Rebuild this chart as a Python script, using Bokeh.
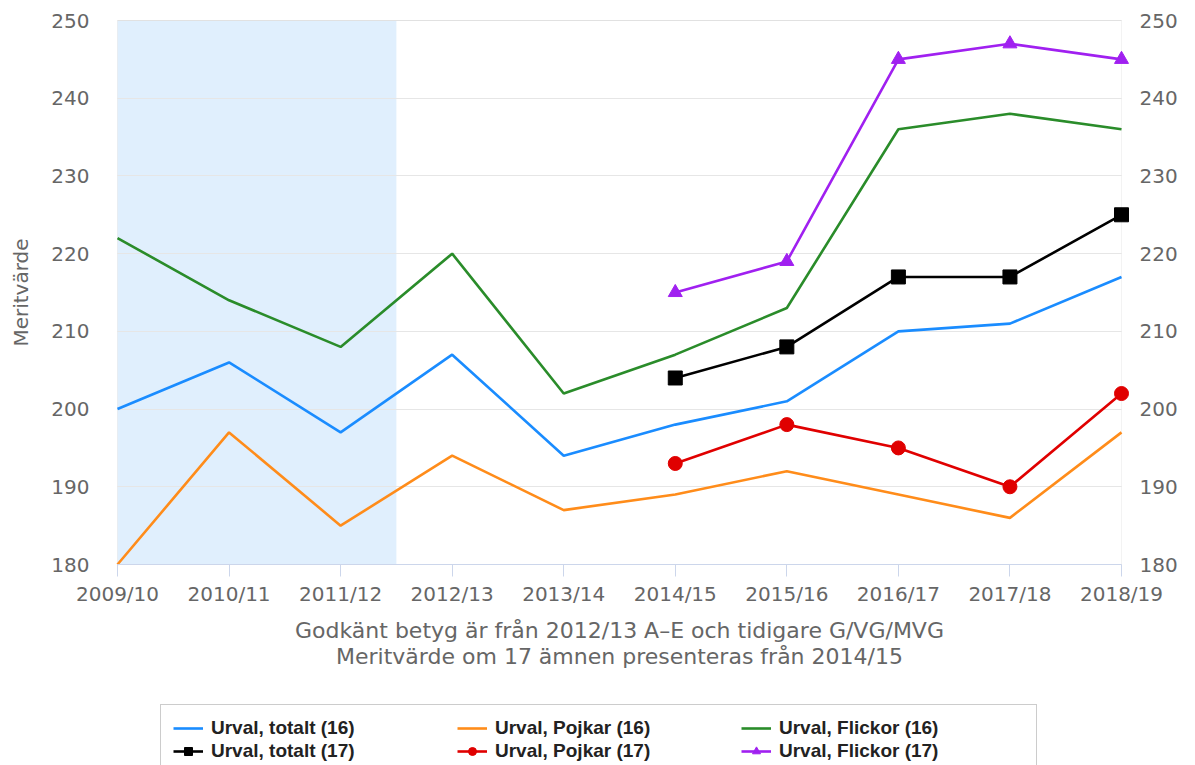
import math
from bokeh.plotting import figure
from bokeh.models import (FixedTicker, LinearAxis, Range1d, BoxAnnotation, Legend,
                          LegendItem, Grid, Label)
from bokeh.embed import file_html
from bokeh.resources import INLINE

years = ["2009/10", "2010/11", "2011/12", "2012/13", "2013/14",
         "2014/15", "2015/16", "2016/17", "2017/18", "2018/19"]
totalt16 = [200, 206, 197, 207, 194, 198, 201, 210, 211, 217]
pojkar16 = [180, 197, 185, 194, 187, 189, 192, 189, 186, 197]
flickor16 = [222, 214, 208, 220, 202, 207, 213, 236, 238, 236]
years17 = years[5:]
totalt17 = [204, 208, 217, 217, 225]
pojkar17 = [193, 198, 195, 190, 202]
flickor17 = [215, 219, 245, 247, 245]
y_ticks = [180, 190, 200, 210, 220, 230, 240, 250]
y_min, y_max = 180, 250
shade_end = 2.5

xi = list(range(len(years)))
xi17 = [years.index(y) for y in years17]
x_last = len(years) - 1

FONT = "DejaVu Sans"
GREY = "#666666"

# canvas and plot-area geometry (pixels); the frame covers the whole canvas so
# that axes, labels and legend outside the plot area are not clipped
W, H = 1195, 765
PL, PR, PT, PB = 117, 1121, 20, 564
xs = (PR - PL) / x_last
ys = (PB - PT) / (y_max - y_min)
x_start, x_end = -PL / xs, x_last + (W - PR) / xs
y_end, y_start = y_max + PT / ys, y_min - (H - PB) / ys

p = figure(frame_width=W, frame_height=H, output_backend="svg",
           toolbar_location=None, x_axis_location=None, y_axis_location=None,
           x_range=Range1d(x_start, x_end), y_range=Range1d(y_start, y_end),
           min_border=0)
p.outline_line_color = None
for g in p.grid:
    g.visible = False

p.add_layout(BoxAnnotation(left=0, right=shade_end, bottom=y_min, top=y_max,
                           fill_color="#e0effd", fill_alpha=1.0, line_alpha=0,
                           level="underlay"))

grid = Grid(dimension=1, ticker=FixedTicker(ticks=y_ticks),
            grid_line_color="#e6e6e6", level="underlay")
try:
    grid.cross_bounds = (0, x_last)
    p.add_layout(grid)
except Exception:
    p.segment(x0=[0] * len(y_ticks), x1=[x_last] * len(y_ticks), y0=y_ticks,
              y1=y_ticks, line_color="#e6e6e6", line_width=1, level="underlay")

p.add_layout(BoxAnnotation(left=0, right=x_last, bottom=y_min, top=y_max,
                           fill_alpha=0, line_color="#d8d8d8", line_width=1,
                           level="underlay"))

xa = LinearAxis(fixed_location=y_min, ticker=FixedTicker(ticks=xi), bounds=(0, x_last))
xa.major_label_overrides = {i: y for i, y in enumerate(years)}
xa.axis_line_color = "#ccd6eb"
xa.major_tick_line_color = "#ccd6eb"
xa.major_tick_out = 12
xa.major_tick_in = 0
xa.minor_tick_line_color = None
xa.major_label_text_font = FONT
xa.major_label_text_font_size = "20px"
xa.major_label_text_color = GREY
xa.major_label_standoff = 5
xa.axis_label = "Godkänt betyg är från 2012/13 A–E och tidigare G/VG/MVG\nMeritvärde om 17 ämnen presenteras från 2014/15"
xa.axis_label_text_font = FONT
xa.axis_label_text_font_size = "22px"
xa.axis_label_text_font_style = "normal"
xa.axis_label_text_color = GREY
xa.axis_label_text_line_height = 1.05
xa.axis_label_standoff = 9
p.add_layout(xa, "below")


def y_axis(loc, standoff):
    a = LinearAxis(fixed_location=loc, ticker=FixedTicker(ticks=y_ticks),
                   bounds=(y_min, y_max))
    a.axis_line_color = None
    a.major_tick_line_color = None
    a.minor_tick_line_color = None
    a.major_label_text_font = FONT
    a.major_label_text_font_size = "20px"
    a.major_label_text_color = GREY
    a.major_label_standoff = standoff
    return a


p.add_layout(y_axis(0, 22), "left")
p.add_layout(y_axis(x_last, 12), "right")

p.add_layout(Label(x=x_start, y=(y_min + y_max) / 2, x_offset=20,
                   text="Meritvärde", angle=90, angle_units="deg",
                   text_align="center", text_baseline="middle",
                   text_font=FONT, text_font_size="20px", text_color=GREY))

LW = 2.6
r_t16 = p.line(xi, totalt16, line_color="#1a8cff", line_width=LW)
r_p16 = p.line(xi, pojkar16, line_color="#ff8c1a", line_width=LW)
r_f16 = p.line(xi, flickor16, line_color="#2a8c2a", line_width=LW)
r_t17l = p.line(xi17, totalt17, line_color="#000000", line_width=LW)
r_t17m = p.scatter(xi17, totalt17, marker="square", size=14, color="#000000")
r_p17l = p.line(xi17, pojkar17, line_color="#e00000", line_width=LW)
r_p17m = p.scatter(xi17, pojkar17, marker="circle", size=14, color="#e00000")
r_f17l = p.line(xi17, flickor17, line_color="#a020f0", line_width=LW)
r_f17m = p.scatter(xi17, flickor17, marker="triangle", size=14, color="#a020f0")

items = [
    LegendItem(label="Urval, totalt (16)", renderers=[r_t16]),
    LegendItem(label="Urval, totalt (17)", renderers=[r_t17l, r_t17m]),
    LegendItem(label="Urval, Pojkar (16)", renderers=[r_p16]),
    LegendItem(label="Urval, Pojkar (17)", renderers=[r_p17l, r_p17m]),
    LegendItem(label="Urval, Flickor (16)", renderers=[r_f16]),
    LegendItem(label="Urval, Flickor (17)", renderers=[r_f17l, r_f17m]),
]
legend = Legend(items=items, nrows=2, orientation="vertical",
                location=(160, -10), label_text_font="Liberation Sans",
                label_text_font_style="bold", label_text_font_size="19px",
                label_text_color="#222222", glyph_width=30, glyph_height=20,
                label_height=20, label_width=245, label_standoff=8, spacing=1,
                padding=12, border_line_color="#999999", border_line_width=1,
                background_fill_color="white", background_fill_alpha=1)
p.add_layout(legend, "center")

open("out.html", "w").write(file_html(p, INLINE))
